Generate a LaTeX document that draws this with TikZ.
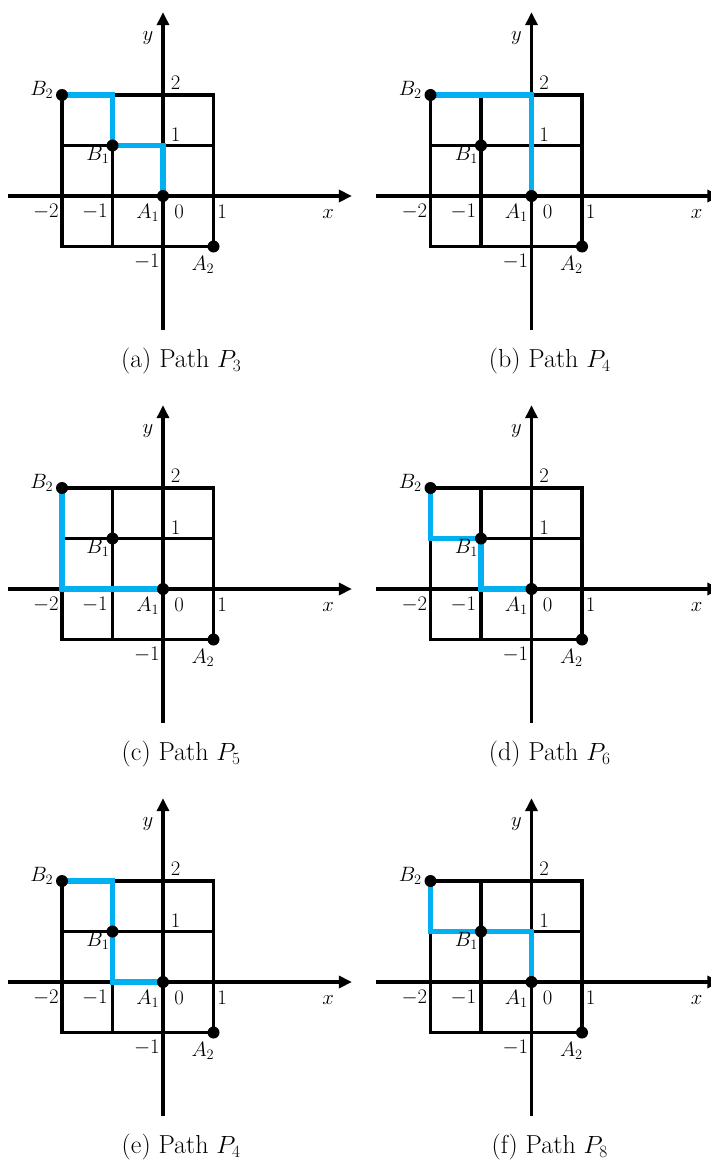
\documentclass[tikz,border=0pt]{standalone}
\usetikzlibrary{arrows.meta}
\definecolor{pathblue}{RGB}{0,176,240}
\tikzset{
  gridline/.style={line width=3.5pt, line join=miter},
  axisline/.style={line width=3.5pt, -{Triangle[length=13pt,width=12pt]}},
  bluepath/.style={pathblue, line width=5.5pt, line join=miter},
  dotnode/.style={circle, fill=black, inner sep=0pt, minimum size=12pt},
  lab/.style={font=\fontsize{20.5}{23}\selectfont, inner sep=0pt},
  capt/.style={font=\fontsize{26}{30}\selectfont, inner sep=0pt}
}
\newcommand\pathpanel[5]{%
\begin{scope}[shift={(#1pt,-#2pt)}, x=50.5pt, y=50.5pt]
  \draw[gridline] (-2,-1) rectangle (1,2);
  \draw[gridline] (-2,1) -- (1,1);
  \draw[gridline] (-1,-1) -- (-1,2);
  \coordinate (#3xl) at (-3.07,0);
  \coordinate (#3xr) at (3.74,0);
  \coordinate (#3yb) at (0,-2.65);
  \coordinate (#3yt) at (0,3.64);
  \draw[axisline] (#3xl) -- (#3xr);
  \draw[axisline] (#3yb) -- (#3yt);
  \draw[bluepath] #4;
  \node[dotnode] (#3B2) at (-2,2) {};
  \node[dotnode] (#3B1) at (-1,1) {};
  \node[dotnode] (#3A1) at (0,0) {};
  \node[dotnode] (#3A2) at (1,-1) {};
  \node[lab] (#3ylab) at (-0.30,3.13) {$y$};
  \node[lab] (#3xlab) at (3.27,-0.36) {$x$};
  \node[lab] (#3ytwo) at (0.25,2.24) {$2$};
  \node[lab] (#3yone) at (0.25,1.21) {$1$};
  \node[lab] (#3ymone) at (-0.32,-1.31) {$-1$};
  \node[lab] (#3xmtwo) at (-2.32,-0.32) {$-2$};
  \node[lab] (#3xmone) at (-1.35,-0.32) {$-1$};
  \node[lab] (#3xone) at (1.17,-0.32) {$1$};
  \node[lab] (#3zero) at (0.32,-0.32) {$0$};
  \node[lab] (#3B2lab) at (-2.40,2.10) {$B_2$};
  \node[lab] (#3B1lab) at (-1.29,0.81) {$B_1$};
  \node[lab] (#3A1lab) at (-0.30,-0.34) {$A_1$};
  \node[lab] (#3A2lab) at (0.79,-1.36) {$A_2$};
  \node[capt] (#3cap) at (0.36,-3.27) {#5};
\end{scope}}
\begin{document}
\begin{tikzpicture}
\useasboundingbox (0,0) rectangle (710pt,-1161pt);
\pathpanel{163}{196}{a}{(-2,2) -- (-1,2) -- (-1,1) -- (0,1) -- (0,0)}{(a) Path $P_3$}
\pathpanel{531.5}{196}{b}{(-2,2) -- (0,2) -- (0,0)}{(b) Path $P_4$}
\pathpanel{163}{589}{c}{(-2,2) -- (-2,0) -- (0,0)}{(c) Path $P_5$}
\pathpanel{531.5}{589}{d}{(-2,2) -- (-2,1) -- (-1,1) -- (-1,0) -- (0,0)}{(d) Path $P_6$}
\pathpanel{163}{982}{e}{(-2,2) -- (-1,2) -- (-1,0) -- (0,0)}{(e) Path $P_4$}
\pathpanel{531.5}{982}{f}{(-2,2) -- (-2,1) -- (0,1) -- (0,0)}{(f) Path $P_8$}
\end{tikzpicture}
\end{document}
